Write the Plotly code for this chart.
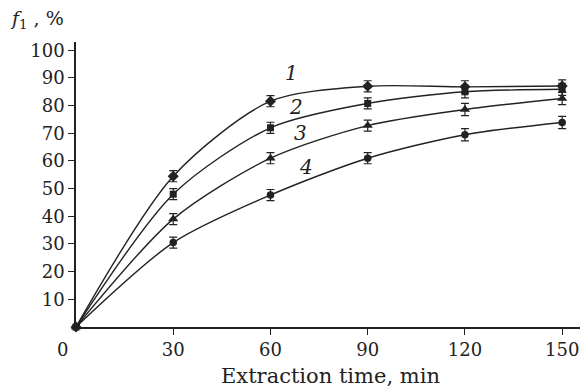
import plotly.graph_objects as go

time_min = [0, 30, 60, 90, 120, 150]
curve1 = [0, 54.5, 81.6, 87.0, 86.8, 87.1]
curve2 = [0, 48.0, 72.0, 80.8, 85.0, 85.9]
curve3 = [0, 39.0, 61.0, 72.8, 78.6, 82.6]
curve4 = [0, 30.5, 47.7, 61.0, 69.5, 73.9]
err = [1.0, 2.0, 2.0, 2.0, 2.2, 2.2]
series = [("1", curve1, "diamond", 8.5), ("2", curve2, "square", 7),
          ("3", curve3, "triangle-up", 9), ("4", curve4, "circle", 7.5)]
label_pos = {"1": (66.4, 91.7), "2": (67.9, 79.4), "3": (69.4, 70.0), "4": (71.0, 57.8)}
xticks = [30, 60, 90, 120, 150]
yticks = [10, 20, 30, 40, 50, 60, 70, 80, 90, 100]

ink = "#222222"
font = "DejaVu Serif"

fig = go.Figure()
for name, ys, sym, sz in series:
    fig.add_trace(go.Scatter(
        x=time_min, y=ys, mode="lines+markers", name=name,
        line=dict(color=ink, width=1.4, shape="spline", smoothing=0.8),
        marker=dict(symbol=sym, size=sz, color=ink),
        error_y=dict(type="data", array=err, visible=True, color=ink, thickness=1.2, width=4),
        cliponaxis=False, showlegend=False))
    lx, ly = label_pos[name]
    fig.add_annotation(x=lx, y=ly, text=f"<i>{name}</i>", showarrow=False,
                       font=dict(family=font, size=20, color=ink))

fig.add_annotation(xref="paper", yref="paper", x=(62 - 76) / 504, y=(327 - 349) / 285, text="0",
                   showarrow=False, xanchor="center", yanchor="middle",
                   font=dict(family=font, size=18, color=ink))
fig.add_annotation(xref="paper", yref="paper", x=(330 - 76) / 504, y=(327 - 376) / 285,
                   text="Extraction time, min", showarrow=False, xanchor="center", yanchor="middle",
                   font=dict(family=font, size=21, color=ink))
fig.add_annotation(xref="paper", yref="paper", x=(8 - 76) / 504, y=(327 - 20) / 285,
                   text="<i>f</i><sub>1</sub> , %", showarrow=False, xanchor="left", yanchor="middle",
                   font=dict(family=font, size=19, color=ink))

fig.update_xaxes(range=[0, 155.5], tickvals=xticks, ticktext=[str(v) for v in xticks],
                 showline=True, linecolor=ink, linewidth=1.6, ticks="outside", ticklen=6,
                 tickwidth=1.4, tickcolor=ink, showgrid=False, zeroline=False,
                 tickfont=dict(family=font, size=18, color=ink))
fig.update_yaxes(range=[0, 103], tickvals=yticks, ticktext=[str(v) for v in yticks],
                 showline=True, linecolor=ink, linewidth=1.6, ticks="outside", ticklen=6,
                 tickwidth=1.4, tickcolor=ink, showgrid=False, zeroline=False,
                 tickfont=dict(family=font, size=18, color=ink))
fig.update_layout(width=588, height=390, margin=dict(l=76, r=8, t=42, b=63),
                  plot_bgcolor="white", paper_bgcolor="white")
fig.write_html("out.html")
